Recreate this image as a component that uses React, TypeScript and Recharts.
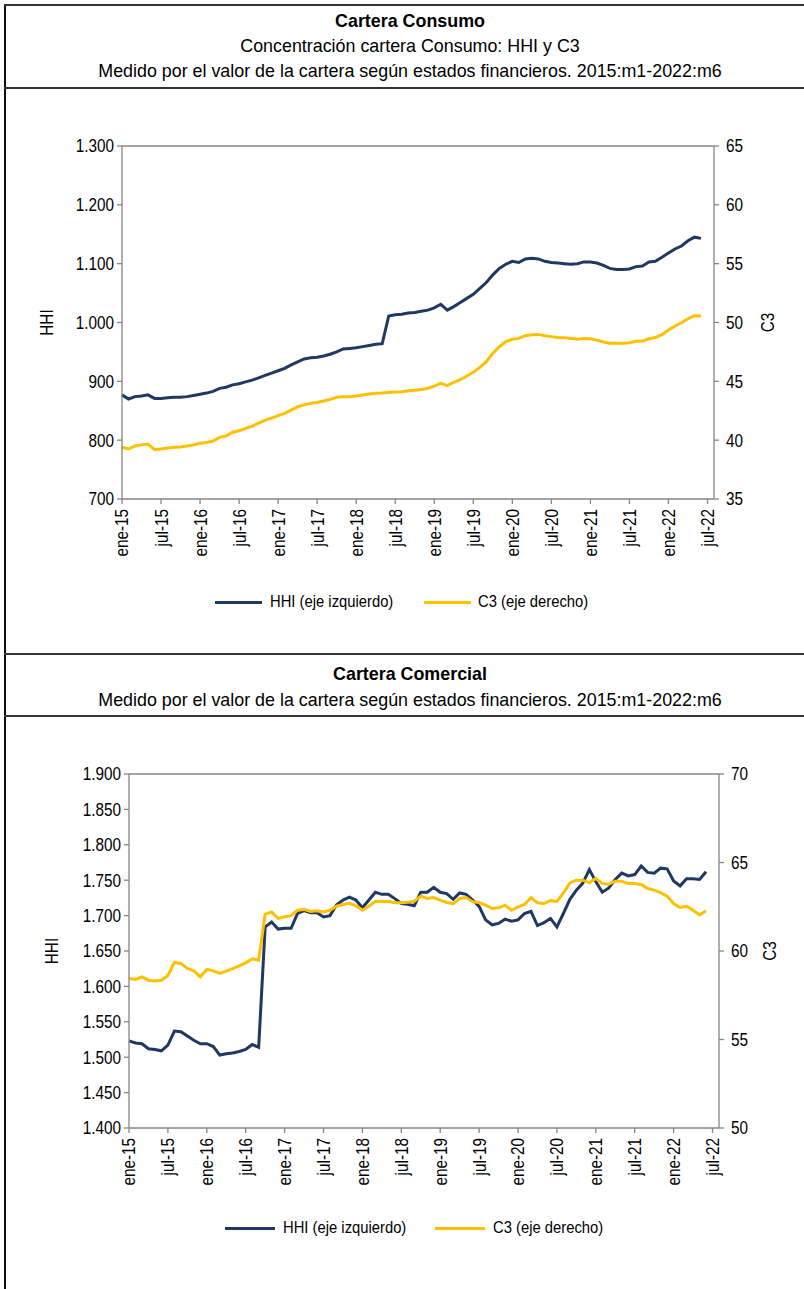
import React from 'react';
import { LineChart, Line, XAxis, YAxis, ReferenceLine, Label } from 'recharts';

const monthNames = ['ene', 'feb', 'mar', 'abr', 'may', 'jun', 'jul', 'ago', 'sep', 'oct', 'nov', 'dic'];
const xTicks = [0, 6, 12, 18, 24, 30, 36, 42, 48, 54, 60, 66, 72, 78, 84, 90];

const consumoHHI = [
  877, 870, 874, 875, 877, 871, 871, 872, 873, 873, 874, 876, 878, 880, 883, 888, 890, 894, 896, 899,
  902, 906, 910, 914, 918, 922, 928, 933, 938, 940, 941, 943, 946, 950, 955, 956, 957, 959, 961, 963,
  964, 1011, 1013, 1014, 1016, 1017, 1019, 1021, 1025, 1031, 1021, 1027, 1034, 1041, 1048, 1058, 1068, 1081, 1092, 1099,
  1104, 1102, 1108, 1109, 1108, 1104, 1102, 1101, 1100, 1099, 1100, 1103, 1103, 1101, 1097, 1092, 1090, 1090, 1091, 1095,
  1096, 1103, 1104, 1111, 1118, 1125, 1130, 1139, 1145, 1143,
];
const consumoC3 = [
  39.4, 39.25, 39.5, 39.6, 39.67, 39.2, 39.25, 39.33, 39.4, 39.42, 39.5, 39.6, 39.73, 39.8, 39.93, 40.24, 40.35, 40.67, 40.8, 41.0,
  41.2, 41.45, 41.7, 41.88, 42.08, 42.28, 42.56, 42.84, 43.0, 43.13, 43.2, 43.33, 43.47, 43.64, 43.7, 43.7, 43.75, 43.84, 43.92, 43.98,
  44.0, 44.06, 44.1, 44.12, 44.2, 44.25, 44.3, 44.4, 44.6, 44.83, 44.63, 44.92, 45.14, 45.45, 45.77, 46.19, 46.67, 47.38, 47.94, 48.37,
  48.57, 48.65, 48.88, 48.96, 48.99, 48.88, 48.8, 48.73, 48.7, 48.65, 48.57, 48.65, 48.62, 48.5, 48.34, 48.23, 48.23, 48.23, 48.28, 48.4,
  48.42, 48.62, 48.73, 48.96, 49.36, 49.7, 49.98, 50.32, 50.58, 50.55,
];
const comercialHHI = [
  1523, 1520, 1519, 1512, 1511, 1509, 1517, 1537, 1536, 1530, 1524, 1519, 1519, 1515, 1503, 1505, 1506, 1508, 1511, 1518,
  1514, 1684, 1691, 1681, 1682, 1682, 1703, 1707, 1704, 1704, 1698, 1700, 1715, 1722, 1726, 1722, 1711, 1722, 1733, 1730,
  1730, 1724, 1717, 1716, 1714, 1733, 1733, 1740, 1733, 1731, 1723, 1732, 1730, 1722, 1713, 1694, 1687, 1689, 1695, 1692,
  1694, 1703, 1706, 1686, 1690, 1696, 1684, 1703, 1723, 1736, 1746, 1765, 1748, 1733, 1739, 1751, 1760, 1756, 1758, 1770,
  1761, 1760, 1767, 1766, 1749, 1742, 1752, 1752, 1751, 1762,
];
const comercialC3 = [
  58.45, 58.39, 58.54, 58.35, 58.31, 58.35, 58.62, 59.35, 59.3, 59.01, 58.88, 58.54, 58.96, 58.88, 58.73, 58.86, 59.01, 59.16, 59.33, 59.56,
  59.48, 62.08, 62.21, 61.84, 61.93, 62.0, 62.3, 62.35, 62.23, 62.27, 62.21, 62.3, 62.53, 62.63, 62.7, 62.55, 62.3, 62.53, 62.81, 62.8,
  62.81, 62.72, 62.72, 62.76, 62.81, 63.1, 62.97, 63.02, 62.87, 62.74, 62.68, 62.97, 63.02, 62.78, 62.74, 62.59, 62.4, 62.44, 62.59, 62.3,
  62.49, 62.63, 63.02, 62.72, 62.68, 62.85, 62.8, 63.28, 63.85, 64.0, 64.0, 63.85, 64.1, 63.81, 63.77, 63.94, 63.94, 63.81, 63.81, 63.76,
  63.53, 63.44, 63.3, 63.1, 62.68, 62.46, 62.53, 62.3, 62.04, 62.27,
];

const consumoLeftTicks = [700, 800, 900, 1000, 1100, 1200, 1300];
const consumoRightTicks = [35, 40, 45, 50, 55, 60, 65];
const comercialLeftTicks = [1400, 1450, 1500, 1550, 1600, 1650, 1700, 1750, 1800, 1850, 1900];
const comercialRightTicks = [50, 55, 60, 65, 70];

const NAVY = '#1F3864';
const GOLD = '#FFC000';
const AXIS = '#868686';
const FONT = '"Liberation Sans", Arial, sans-serif';
const FS = 18;
const SX = 0.85;
const LFS = 17;
const LSX = 0.87;

const buildRows = (a: number[], b: number[]) => a.map((v, i) => ({ x: i, hhi: v, c3: b[i] }));
const consumoRows = buildRows(consumoHHI, consumoC3);
const comercialRows = buildRows(comercialHHI, comercialC3);

const fmtThousands = (v: number) => {
  if (v >= 1000) {
    const t = Math.floor(v / 1000);
    const r = String(v % 1000).padStart(3, '0');
    return `${t}.${r}`;
  }
  return String(v);
};
const monthLabel = (i: number) => `${monthNames[i % 12]}-${15 + Math.floor(i / 12)}`;

const CondText = ({ x, y, rot = 0, anchor, children }: any) => (
  <g transform={`translate(${x},${y}) rotate(${rot}) scale(${SX},1)`}>
    <text x={0} y={0} textAnchor={anchor} dy="0.36em" fontSize={FS} fontFamily={FONT} fill="#000">
      {children}
    </text>
  </g>
);

const XTick = (props: any) => (
  <CondText x={props.x} y={props.y} rot={-90} anchor="end">
    {monthLabel(props.payload.value)}
  </CondText>
);
const LeftTick = (props: any) => (
  <CondText x={props.x} y={props.y} anchor="end">
    {fmtThousands(props.payload.value)}
  </CondText>
);
const RightTick = (props: any) => (
  <CondText x={props.x} y={props.y} anchor="start">
    {String(props.payload.value)}
  </CondText>
);

const axisTitle = (text: string, dx: number) => (props: any) => {
  const vb = props.viewBox || { x: 0, y: 0, width: 0, height: 0 };
  return (
    <CondText x={vb.x + dx} y={vb.y + vb.height / 2} rot={-90} anchor="middle">
      {text}
    </CondText>
  );
};

const condSpan = (left: number, top: number): React.CSSProperties => ({
  position: 'absolute',
  left,
  top,
  fontFamily: FONT,
  fontSize: LFS,
  lineHeight: '20px',
  color: '#000',
  whiteSpace: 'nowrap',
  transform: `scaleX(${LSX})`,
  transformOrigin: 'left center',
});

const LegendBlock = ({ top, l1, l2, t1, t2, len }: { top: number; l1: number; l2: number; t1: number; t2: number; len: number }) => (
  <>
    <div style={{ position: 'absolute', left: l1, top: top + 9, width: len, height: 3, background: NAVY }} />
    <div style={condSpan(t1, top)}>HHI (eje izquierdo)</div>
    <div style={{ position: 'absolute', left: l2, top: top + 9, width: len, height: 3, background: GOLD }} />
    <div style={condSpan(t2, top)}>C3 (eje derecho)</div>
  </>
);

const titleStyle = (top: number, bold = false): React.CSSProperties => ({
  position: 'absolute',
  top,
  left: 4,
  width: 812,
  textAlign: 'center',
  fontFamily: FONT,
  fontSize: 19,
  fontWeight: bold ? 'bold' : 'normal',
  lineHeight: '22px',
  color: '#000',
  whiteSpace: 'nowrap',
  transform: 'scaleX(0.94)',
  transformOrigin: '406px 50%',
});

const hLine = (top: number): React.CSSProperties => ({
  position: 'absolute',
  top,
  left: 4,
  width: 800,
  height: 2,
  background: '#333',
});

export default function App() {
  return (
    <div style={{ position: 'absolute', left: 0, top: 0, width: 804, height: 1289, overflow: 'hidden', background: '#fff' }}>
      <div style={{ position: 'absolute', left: 4, top: 4, width: 2, height: 1285, background: '#111' }} />
      <div style={hLine(4)} />
      <div style={hLine(87)} />
      <div style={hLine(653)} />
      <div style={hLine(715)} />

      <div style={titleStyle(10, true)}>Cartera Consumo</div>
      <div style={titleStyle(35)}>Concentración cartera Consumo: HHI y C3</div>
      <div style={titleStyle(60)}>Medido por el valor de la cartera según estados financieros. 2015:m1-2022:m6</div>

      <div style={titleStyle(663, true)}>Cartera Comercial</div>
      <div style={titleStyle(689)}>Medido por el valor de la cartera según estados financieros. 2015:m1-2022:m6</div>

      <div style={{ position: 'absolute', left: 0, top: 0 }}>
        <LineChart width={804} height={570} data={consumoRows} margin={{ top: 146, right: 0, bottom: 10, left: 0 }}>
          <XAxis
            dataKey="x"
            type="number"
            domain={[0, 91]}
            ticks={xTicks}
            interval={0}
            tick={<XTick />}
            tickSize={5}
            tickMargin={5}
            height={61}
            stroke={AXIS}
            strokeWidth={1.3}
          />
          <YAxis
            yAxisId="left"
            domain={[700, 1300]}
            ticks={consumoLeftTicks}
            interval={0}
            width={122}
            tickSize={5}
            tickMargin={3}
            stroke={AXIS}
            strokeWidth={1.3}
            tick={<LeftTick />}
          >
            <Label content={axisTitle('HHI', 47)} />
          </YAxis>
          <YAxis
            yAxisId="right"
            orientation="right"
            domain={[35, 65]}
            ticks={consumoRightTicks}
            interval={0}
            width={90}
            tickSize={5}
            tickMargin={7}
            stroke={AXIS}
            strokeWidth={1.3}
            tick={<RightTick />}
          >
            <Label content={axisTitle('C3', 54)} />
          </YAxis>
          <ReferenceLine yAxisId="left" y={1300} stroke={AXIS} strokeWidth={1.3} />
          <Line yAxisId="left" dataKey="hhi" stroke={NAVY} strokeWidth={3} dot={false} isAnimationActive={false} />
          <Line yAxisId="right" dataKey="c3" stroke={GOLD} strokeWidth={3} dot={false} isAnimationActive={false} />
        </LineChart>
      </div>
      <LegendBlock top={592} l1={215} l2={424} t1={270} t2={478} len={47} />

      <div style={{ position: 'absolute', left: 0, top: 640 }}>
        <LineChart width={804} height={559} data={comercialRows} margin={{ top: 134, right: 0, bottom: 10, left: 0 }}>
          <XAxis
            dataKey="x"
            type="number"
            domain={[0, 91]}
            ticks={xTicks}
            interval={0}
            tick={<XTick />}
            tickSize={5}
            tickMargin={5}
            height={61}
            stroke={AXIS}
            strokeWidth={1.3}
          />
          <YAxis
            yAxisId="left"
            domain={[1400, 1900]}
            ticks={comercialLeftTicks}
            interval={0}
            width={129}
            tickSize={5}
            tickMargin={3}
            stroke={AXIS}
            strokeWidth={1.3}
            tick={<LeftTick />}
          >
            <Label content={axisTitle('HHI', 52)} />
          </YAxis>
          <YAxis
            yAxisId="right"
            orientation="right"
            domain={[50, 70]}
            ticks={comercialRightTicks}
            interval={0}
            width={85}
            tickSize={5}
            tickMargin={7}
            stroke={AXIS}
            strokeWidth={1.3}
            tick={<RightTick />}
          >
            <Label content={axisTitle('C3', 51)} />
          </YAxis>
          <ReferenceLine yAxisId="left" y={1900} stroke={AXIS} strokeWidth={1.3} />
          <Line yAxisId="left" dataKey="hhi" stroke={NAVY} strokeWidth={3} dot={false} isAnimationActive={false} />
          <Line yAxisId="right" dataKey="c3" stroke={GOLD} strokeWidth={3} dot={false} isAnimationActive={false} />
        </LineChart>
      </div>
      <LegendBlock top={1218} l1={225} l2={435} t1={283} t2={493} len={50} />
    </div>
  );
}
